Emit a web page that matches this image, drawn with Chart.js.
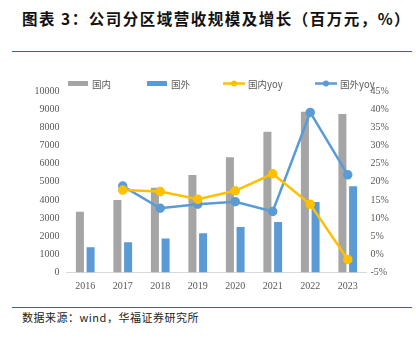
<!DOCTYPE html>
<html>
<head>
<meta charset="utf-8">
<script src="https://cdn.jsdelivr.net/npm/chart.js@4.4.1/dist/chart.umd.min.js"></script>
<style>
    body { margin: 0; width: 416px; height: 341px; background: #fff; position: relative; overflow: hidden; }
    #title { position: absolute; left: 22px; top: 7px; font-family: "Noto Sans CJK SC", sans-serif; font-weight: bold; font-size: 15.5px; color: #111; letter-spacing: 1.5px; white-space: nowrap; }
    .rule { position: absolute; left: 12px; width: 400px; height: 1px; background: #2e63a9; }
    #source { position: absolute; left: 22px; top: 309px; font-family: "Noto Sans CJK SC", serif; font-size: 11px; color: #222; letter-spacing: 0.5px; white-space: nowrap; }
    #wrap { position: absolute; left: 0; top: 70px; width: 416px; height: 230px; }
</style>
</head>
<body>
<div id="title">图表 3：公司分区域营收规模及增长（百万元，%）</div>
<div class="rule" style="top:51px"></div>
<div id="wrap"><canvas id="regionChart"></canvas></div>
<div class="rule" style="top:307px"></div>
<div id="source">数据来源：wind，华福证券研究所</div>
<script>
document.addEventListener("DOMContentLoaded", function () {
    // Revenue by region (RMB mn) and yoy growth (%)
    const years = ['2016', '2017', '2018', '2019', '2020', '2021', '2022', '2023'];
    const domestic = [3350, 4000, 4670, 5370, 6350, 7760, 8860, 8730];
    const overseas = [1390, 1660, 1880, 2160, 2510, 2780, 3880, 4750];
    const domesticYoy = [null, 17.7, 17.3, 15.2, 17.5, 22.2, 13.8, -1.4];
    const overseasYoy = [null, 18.8, 12.7, 13.8, 14.5, 11.8, 39.1, 21.9];

    const GRAY = '#a5a5a5';
    const BLUE = '#5b9bd5';
    const YELLOW = '#ffc000';
    const tickFont = { family: '"Liberation Serif", serif', size: 10 };

    // legend drawn by hand: bars get a flat box, lines get a stroke with a dot
    const legendItems = [
        { text: '国内', color: GRAY, x: 68, type: 'box' },
        { text: '国外', color: BLUE, x: 147, type: 'box' },
        { text: '国内yoy', color: YELLOW, x: 223, type: 'line' },
        { text: '国外yoy', color: BLUE, x: 315, type: 'line' }
    ];
    const legendPlugin = {
        id: 'topLegend',
        afterDraw(chart) {
            const ctx = chart.ctx;
            const y = 13.5;
            ctx.save();
            legendItems.forEach((item) => {
                if (item.type === 'box') {
                    ctx.fillStyle = item.color;
                    ctx.fillRect(item.x, y - 2.5, 20, 5);
                } else {
                    ctx.strokeStyle = item.color;
                    ctx.lineWidth = 2.5;
                    ctx.beginPath();
                    ctx.moveTo(item.x, y);
                    ctx.lineTo(item.x + 22, y);
                    ctx.stroke();
                    ctx.fillStyle = item.color;
                    ctx.beginPath();
                    ctx.arc(item.x + 11, y, 3, 0, Math.PI * 2);
                    ctx.fill();
                }
                ctx.fillStyle = '#595959';
                ctx.font = '9.5px "Noto Sans CJK SC", serif';
                ctx.textBaseline = 'middle';
                ctx.textAlign = 'left';
                ctx.fillText(item.text, item.x + (item.type === 'box' ? 24 : 25), y + 0.5);
            });
            ctx.restore();
        }
    };

    const ctx = document.getElementById('regionChart').getContext('2d');
    new Chart(ctx, {
        data: {
            labels: years,
            datasets: [
                {
                    type: 'line', label: '国内yoy', data: domesticYoy, yAxisID: 'yr',
                    borderColor: YELLOW, backgroundColor: YELLOW, borderWidth: 2.5,
                    pointRadius: 3.5, pointHoverRadius: 3.5, tension: 0, order: 0
                },
                {
                    type: 'line', label: '国外yoy', data: overseasYoy, yAxisID: 'yr',
                    borderColor: BLUE, backgroundColor: BLUE, borderWidth: 2.5,
                    pointRadius: 3.5, pointHoverRadius: 3.5, tension: 0, order: 0
                },
                {
                    type: 'bar', label: '国内', data: domestic, yAxisID: 'y',
                    backgroundColor: GRAY, barPercentage: 0.75, categoryPercentage: 0.57, order: 1
                },
                {
                    type: 'bar', label: '国外', data: overseas, yAxisID: 'y',
                    backgroundColor: BLUE, barPercentage: 0.75, categoryPercentage: 0.57, order: 1
                }
            ]
        },
        options: {
            responsive: true,
            maintainAspectRatio: false,
            animation: false,
            layout: { padding: { top: 21, left: 0, right: 0, bottom: 0 } },
            plugins: { legend: { display: false }, tooltip: { enabled: false } },
            scales: {
                x: {
                    grid: { display: false, drawTicks: false },
                    border: { color: '#d9d9d9', width: 1 },
                    ticks: { color: '#595959', font: tickFont, padding: 8 },
                    afterFit: (scale) => { scale.height = 27.5; }
                },
                y: {
                    position: 'left', min: 0, max: 10000,
                    grid: { display: false, drawTicks: false },
                    border: { display: false },
                    ticks: {
                        stepSize: 1000, color: '#595959', font: tickFont, padding: 7,
                        callback: (v) => String(v)
                    },
                    afterFit: (scale) => { scale.width = 66.5; }
                },
                yr: {
                    position: 'right', min: -5, max: 45,
                    grid: { display: false, drawTicks: false },
                    border: { display: false },
                    ticks: {
                        stepSize: 5, color: '#595959', font: tickFont, padding: 4,
                        callback: (v) => v + '%'
                    },
                    afterFit: (scale) => { scale.width = 49.5; }
                }
            }
        },
        plugins: [legendPlugin]
    });
});
</script>
</body>
</html>
